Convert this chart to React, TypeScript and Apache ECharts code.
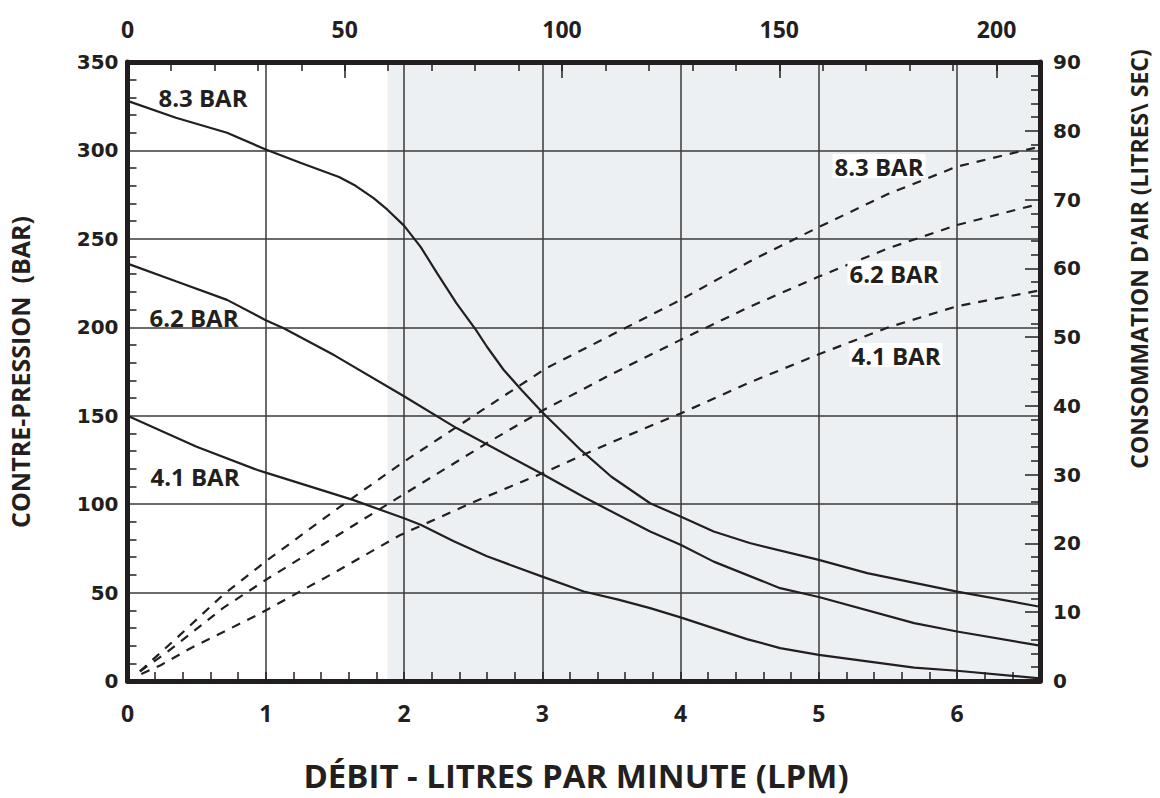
import React, { useEffect, useRef } from "react";
import * as echarts from "echarts";

// ---- data ----
const flowMax = 6.6; // LPM, bottom axis
const flowTopMax = 210; // top axis
const pressureMax = 350; // BAR, left axis
const airMax = 90; // litres/sec, right axis
const shadeStart = 1.88; // start of grey zone (LPM)

const seriesNames = ["8.3 BAR", "6.2 BAR", "4.1 BAR"];

// back-pressure curves [LPM, BAR]
const pressure83: [number, number][] = [
  [0, 328], [0.35, 318.5], [0.72, 310], [1.0, 300.5], [1.25, 293], [1.53, 285], [1.65, 280],
  [1.78, 273], [1.88, 266.5], [2.0, 257.5], [2.12, 245.5], [2.24, 230.5], [2.38, 213.5], [2.52, 198.5],
  [2.6, 189], [2.72, 176], [2.85, 164.5], [3.0, 152], [3.28, 130.5], [3.5, 115.5],
  [3.78, 100.5], [4.0, 93], [4.24, 84.5], [4.5, 78], [5.0, 68.5], [5.35, 61], [6.0, 50.5], [6.6, 42],
];
const pressure62: [number, number][] = [
  [0, 236], [0.35, 226], [0.72, 215.5], [1.0, 204], [1.13, 199.5], [1.5, 184], [2.0, 161],
  [2.38, 143], [3.0, 117], [3.3, 104], [3.78, 84.5], [4.0, 77], [4.24, 67.5], [4.72, 52.5],
  [5.0, 47.5], [5.69, 32.7], [6.0, 28], [6.6, 20],
];
const pressure41: [number, number][] = [
  [0, 150], [0.5, 132.5], [0.94, 119.3], [1.0, 117.8], [1.63, 102.4], [2.0, 92], [2.12, 88.3],
  [2.36, 79], [2.6, 70.5], [3.0, 59], [3.3, 50.6], [3.55, 46], [3.78, 41.2], [4.0, 36], [4.48, 23.7],
  [4.72, 18.6], [5.0, 14.8], [5.69, 7.6], [6.0, 5.8], [6.6, 1.5],
];

// air consumption curves [LPM, litres/sec]
const air83: [number, number][] = [
  [0.09, 1.4], [0.38, 6.7], [0.69, 12.5], [1.0, 17.4], [1.5, 24.8], [2.0, 31.9], [2.62, 40.1],
  [3.03, 45.5], [3.5, 50.3], [4.0, 55.4], [4.5, 61], [5.0, 66], [5.5, 70.8], [6.0, 74.8], [6.6, 77.7],
];
const air62: [number, number][] = [
  [0.09, 1.4], [0.28, 4.1], [0.69, 10.6], [1.0, 14.7], [1.97, 26.8], [2.6, 34.6], [3.0, 39.3],
  [3.5, 44.6], [4.0, 49.6], [4.5, 54.4], [5.0, 58.8], [5.5, 62.9], [6.0, 66.3], [6.6, 69.4],
];
const air41: [number, number][] = [
  [0.1, 1.0], [0.24, 2.3], [0.46, 4.8], [0.94, 9.6], [1.5, 15.8], [1.97, 21.2], [2.5, 26], [3.0, 30.2],
  [3.5, 34.7], [4.0, 38.9], [4.5, 43.4], [5.0, 47.5], [5.5, 51.4], [6.0, 54.5], [6.6, 56.8],
];

const xTitle = "DÉBIT - LITRES PAR MINUTE (LPM)";
const yLeftTitle = "CONTRE-PRESSION  (BAR)";
const yRightTitle = "CONSOMMATION D'AIR (LITRES\\ SEC)";

// ---- styles ----
const ink = "#231f20";
const gridInk = "#3a3a3a";
const shade = "#edf0f2";
const numFont = "'DejaVu Sans', sans-serif";
const condFont = "'Open Sans', sans-serif";
const titleFont = "'Open Sans', sans-serif";

export default function App() {
  const ref = useRef<HTMLDivElement>(null);

  useEffect(() => {
    if (!ref.current) return;
    const chart = echarts.init(ref.current, null, { renderer: "svg" });

    const axisLine = { show: true, onZero: false, lineStyle: { color: ink, width: 5 } };
    const tickLine = { color: ink, width: 1.5 };
    const splitLine = { show: true, lineStyle: { color: gridInk, width: 1.5 } };
    const condLabel = {
      color: ink,
      fontFamily: condFont,
      fontWeight: "bold" as const,
      fontSize: 23,
    };
    const numLabel = {
      color: ink,
      fontFamily: numFont,
      fontWeight: "bold" as const,
      fontSize: 20,
    };

    const solid = (name: string, data: [number, number][]) => ({
      name,
      type: "line",
      xAxisIndex: 0,
      yAxisIndex: 0,
      data,
      symbol: "none",
      smooth: false,
      lineStyle: { color: ink, width: 2.2 },
      silent: true,
      z: 5,
    });
    const dashed = (name: string, data: [number, number][]) => ({
      name,
      type: "line",
      xAxisIndex: 0,
      yAxisIndex: 1,
      data,
      symbol: "none",
      smooth: false,
      lineStyle: { color: ink, width: 2.2, type: [9, 8] },
      silent: true,
      z: 5,
    });

    const labelStyle = (text: string, x: number, y: number, boxed: boolean) => ({
      type: "text",
      x,
      y,
      z: 20,
      style: {
        text,
        fill: ink,
        fontFamily: titleFont,
        fontWeight: "bold",
        fontSize: 24,
        align: "center",
        verticalAlign: "middle",
        backgroundColor: boxed ? "#ffffff" : undefined,
        padding: boxed ? [0, 2, 0, 2] : 0,
      },
    });

    chart.setOption({
      animation: false,
      backgroundColor: "#ffffff",
      grid: { left: 127.5, right: 120, top: 62, bottom: 117, containLabel: false },
      xAxis: [
        {
          type: "value",
          position: "bottom",
          min: 0,
          max: flowMax,
          interval: 1,
          axisLine,
          axisTick: { show: false },
          axisLabel: {
            ...condLabel,
            margin: 20,
            formatter: (v: number) => (Math.abs(v - Math.round(v)) < 1e-6 ? String(Math.round(v)) : ""),
          },
          splitLine,
          z: 3,
        },
        {
          type: "value",
          position: "top",
          min: 0,
          max: flowTopMax,
          interval: 50,
          axisLine,
          axisTick: { show: true, inside: true, length: 16, lineStyle: tickLine },
          axisLabel: {
            ...condLabel,
            margin: 22,
            formatter: (v: number) => (v % 50 === 0 ? String(v) : ""),
          },
          splitLine: { show: false },
          z: 3,
        },
        {
          type: "value",
          position: "bottom",
          min: 0,
          max: flowMax,
          interval: 0.2,
          axisLine: { show: false, onZero: false },
          axisTick: { show: true, inside: true, length: 9, lineStyle: tickLine },
          axisLabel: { show: false },
          splitLine: { show: false },
          z: 3,
        },
        {
          type: "value",
          position: "top",
          min: 0,
          max: flowTopMax,
          interval: 10,
          axisLine: { show: false, onZero: false },
          axisTick: { show: true, inside: true, length: 9, lineStyle: tickLine },
          axisLabel: { show: false },
          splitLine: { show: false },
          z: 3,
        },
      ],
      yAxis: [
        {
          type: "value",
          position: "left",
          min: 0,
          max: pressureMax,
          interval: 50,
          axisLine,
          axisTick: { show: false, inside: true },
          minorTick: { show: true, splitNumber: 5, length: 9, lineStyle: tickLine },
          axisLabel: { ...numLabel, margin: 9 },
          splitLine,
          z: 3,
        },
        {
          type: "value",
          position: "right",
          min: 0,
          max: airMax,
          interval: 10,
          axisLine,
          axisTick: { show: true, inside: true, length: 15, lineStyle: tickLine },
          minorTick: { show: true, splitNumber: 5, length: 9, lineStyle: tickLine },
          axisLabel: { ...numLabel, margin: 13 },
          splitLine: { show: false },
          z: 3,
        },
      ],
      series: [
        {
          name: "zone",
          type: "line",
          xAxisIndex: 0,
          yAxisIndex: 0,
          data: [
            [shadeStart, pressureMax],
            [flowMax, pressureMax],
          ],
          symbol: "none",
          lineStyle: { width: 0 },
          areaStyle: { color: shade, opacity: 1, origin: "start" },
          silent: true,
          z: -1,
        },
        solid(seriesNames[0], pressure83),
        solid(seriesNames[1], pressure62),
        solid(seriesNames[2], pressure41),
        dashed(seriesNames[0] + " air", air83),
        dashed(seriesNames[1] + " air", air62),
        dashed(seriesNames[2] + " air", air41),
      ],
      graphic: [
        labelStyle(seriesNames[0], 203, 97, false),
        labelStyle(seriesNames[1], 194, 317, false),
        labelStyle(seriesNames[2], 195, 476, false),
        labelStyle(seriesNames[0], 879, 166, true),
        labelStyle(seriesNames[1], 894, 273, true),
        labelStyle(seriesNames[2], 896, 355, true),
        {
          type: "text",
          x: 576,
          y: 775,
          style: {
            text: xTitle,
            fill: ink,
            fontFamily: titleFont,
            fontWeight: "bold",
            fontSize: 33,
            align: "center",
            verticalAlign: "middle",
          },
        },
        {
          type: "text",
          x: 20,
          y: 372,
          rotation: Math.PI / 2,
          style: {
            text: yLeftTitle,
            fill: ink,
            fontFamily: titleFont,
            fontWeight: "bold",
            fontSize: 25,
            align: "center",
            verticalAlign: "middle",
          },
        },
        {
          type: "text",
          x: 1139,
          y: 259,
          rotation: Math.PI / 2,
          style: {
            text: yRightTitle,
            fill: ink,
            fontFamily: titleFont,
            fontWeight: "bold",
            fontSize: 23,
            align: "center",
            verticalAlign: "middle",
          },
        },
      ],
    });

    return () => chart.dispose();
  }, []);

  return (
    <div
      ref={ref}
      style={{ position: "fixed", left: 0, top: 0, width: 1160, height: 798, background: "#fff" }}
    />
  );
}
